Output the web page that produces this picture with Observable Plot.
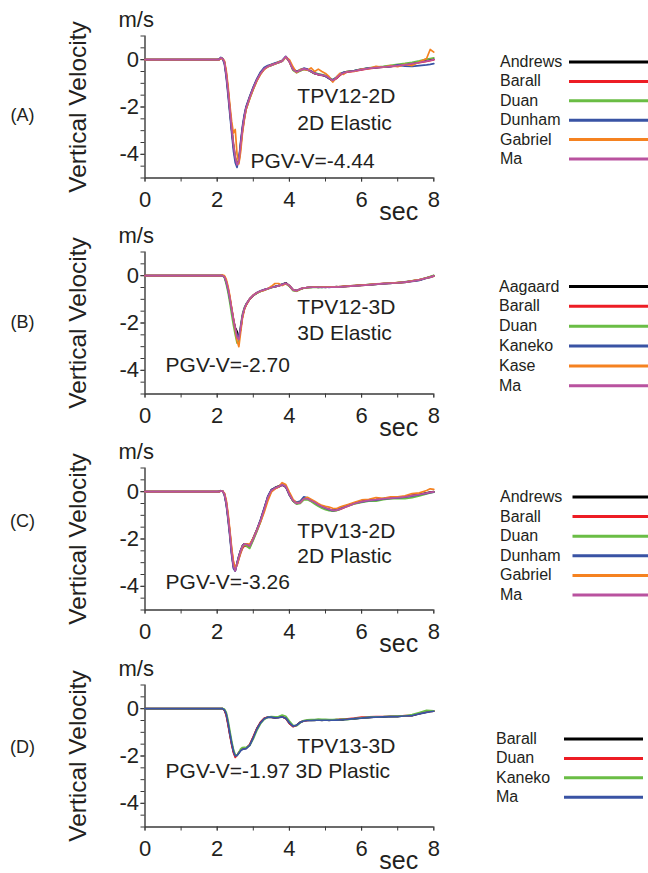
<!DOCTYPE html>
<html><head><meta charset="utf-8">
<script src="https://cdn.jsdelivr.net/npm/d3@7"></script>
<script src="https://cdn.jsdelivr.net/npm/@observablehq/plot@0.6"></script>
<style>
body{margin:0;background:#fff;}
#root{position:relative;width:648px;height:873px;overflow:hidden;font-family:"Liberation Sans",Arial,Helvetica,sans-serif;}
.panel{position:absolute;left:0;}
.legend{position:absolute;left:0;top:0;}
</style></head>
<body><div id="root"></div>
<script>
// ---------- shared axes / time ----------
const time = [0, 2.0, 2.05, 2.1, 2.15, 2.2, 2.25, 2.3, 2.35, 2.4,
  2.45, 2.5, 2.55, 2.6, 2.65, 2.7, 2.75, 2.8, 2.9, 3.0,
  3.1, 3.2, 3.3, 3.4, 3.5, 3.6, 3.7, 3.8, 3.9, 4.0,
  4.1, 4.2, 4.3, 4.4, 4.5, 4.6, 4.7, 4.8, 4.9, 5.0,
  5.1, 5.2, 5.3, 5.4, 5.5, 5.6, 5.8, 6.0, 6.2, 6.4,
  6.6, 6.8, 7.0, 7.2, 7.4, 7.6, 7.8, 7.9, 8.0];
const xTickLabels = [0, 2, 4, 6, 8];
const xMinorTicks = [0, 1, 2, 3, 4, 5, 6, 7, 8];
const yTickLabels = [0, -2, -4];
const yMinorTicks = [1, 0.5, 0, -0.5, -1, -1.5, -2, -2.5, -3, -3.5, -4, -4.5, -5];

// ---------- Panel A: TPV12-2D ----------
const modelsA = ["Andrews", "Barall", "Duan", "Dunham", "Gabriel", "Ma"];
const colorsA = ["#000000", "#ed1c24", "#6abd45", "#3953a4", "#f58220", "#b9529f"];
const aAndrews = [0, 0, 0, 0.07, 0.05, -0.12, -0.65, -1.35, -2.15, -2.95,
  -3.65, -4.2, -4.42, -4.25, -3.55, -2.9, -2.4, -2.02, -1.58, -1.18,
  -0.83, -0.56, -0.37, -0.28, -0.22, -0.16, -0.11, -0.05, 0.12, -0.07,
  -0.4, -0.5, -0.45, -0.38, -0.43, -0.51, -0.59, -0.62, -0.66, -0.7,
  -0.8, -0.9, -0.79, -0.63, -0.55, -0.51, -0.47, -0.41, -0.36, -0.33,
  -0.3, -0.27, -0.24, -0.2, -0.16, -0.1, -0.04, -0.01, 0.02];
const aBarall = [0, 0, 0, 0.06, 0.04, -0.08, -0.55, -1.25, -2.05, -2.85,
  -3.55, -4.1, -4.4, -4.35, -3.7, -3.0, -2.5, -2.08, -1.62, -1.22,
  -0.87, -0.6, -0.4, -0.3, -0.24, -0.18, -0.13, -0.07, 0.11, -0.1,
  -0.44, -0.53, -0.47, -0.4, -0.41, -0.49, -0.57, -0.64, -0.66, -0.69,
  -0.79, -0.87, -0.8, -0.66, -0.57, -0.53, -0.49, -0.43, -0.38, -0.35,
  -0.32, -0.29, -0.26, -0.23, -0.18, -0.13, -0.07, -0.04, -0.01];
const aDuan = [0, 0, 0, 0.07, 0.06, -0.1, -0.58, -1.28, -2.08, -2.88,
  -3.58, -4.12, -4.43, -4.32, -3.65, -3.0, -2.5, -2.1, -1.65, -1.25,
  -0.88, -0.6, -0.4, -0.3, -0.24, -0.18, -0.13, -0.07, 0.1, -0.06,
  -0.45, -0.55, -0.48, -0.41, -0.43, -0.5, -0.56, -0.6, -0.63, -0.66,
  -0.75, -0.85, -0.76, -0.62, -0.54, -0.5, -0.46, -0.4, -0.35, -0.31,
  -0.28, -0.24, -0.2, -0.16, -0.11, -0.05, 0.02, 0.05, 0.08];
const aDunham = [0, 0, 0.02, 0.1, 0.02, -0.18, -0.75, -1.5, -2.3, -3.1,
  -3.85, -4.35, -4.55, -4.2, -3.45, -2.8, -2.32, -1.98, -1.55, -1.15,
  -0.8, -0.52, -0.33, -0.25, -0.2, -0.14, -0.09, -0.03, 0.14, -0.05,
  -0.4, -0.5, -0.42, -0.36, -0.4, -0.48, -0.56, -0.62, -0.64, -0.7,
  -0.8, -0.86, -0.74, -0.6, -0.53, -0.5, -0.46, -0.4, -0.36, -0.34,
  -0.32, -0.3, -0.22, -0.27, -0.28, -0.25, -0.22, -0.2, -0.17];
const aGabriel = [0, 0, 0, 0.05, 0.04, -0.05, -0.45, -1.1, -1.9, -2.6,
  -3.1, -2.95, -4.0, -4.4, -3.9, -3.1, -2.55, -2.1, -1.65, -1.25,
  -0.9, -0.62, -0.42, -0.3, -0.22, -0.18, -0.1, -0.05, 0.1, 0.0,
  -0.3, -0.55, -0.42, -0.4, -0.45, -0.35, -0.5, -0.4, -0.5, -0.58,
  -0.72, -0.95, -0.75, -0.58, -0.62, -0.5, -0.5, -0.4, -0.38, -0.28,
  -0.32, -0.25, -0.3, -0.2, -0.25, -0.1, 0.05, 0.43, 0.32];
const aMa = [0, 0, 0, 0.08, 0.05, -0.1, -0.6, -1.3, -2.1, -2.9,
  -3.6, -4.15, -4.45, -4.3, -3.6, -2.95, -2.45, -2.05, -1.6, -1.2,
  -0.85, -0.58, -0.38, -0.29, -0.23, -0.17, -0.12, -0.06, 0.13, -0.08,
  -0.42, -0.52, -0.46, -0.39, -0.42, -0.5, -0.58, -0.63, -0.65, -0.68,
  -0.78, -0.88, -0.78, -0.64, -0.56, -0.52, -0.48, -0.42, -0.37, -0.34,
  -0.31, -0.28, -0.25, -0.22, -0.17, -0.12, -0.06, -0.03, 0.0];

// ---------- Panel B: TPV12-3D ----------
const modelsB = ["Aagaard", "Barall", "Duan", "Kaneko", "Kase", "Ma"];
const colorsB = ["#000000", "#ed1c24", "#6abd45", "#3953a4", "#f58220", "#b9529f"];
const bAagaard = [0, 0, 0, 0, 0, -0.06, -0.28, -0.6, -1.0, -1.45,
  -1.9, -2.2, -2.35, -2.65, -2.25, -1.72, -1.42, -1.24, -0.99, -0.84,
  -0.73, -0.66, -0.6, -0.55, -0.5, -0.46, -0.42, -0.36, -0.3, -0.43,
  -0.61, -0.64, -0.57, -0.52, -0.5, -0.5, -0.48, -0.5, -0.48, -0.5,
  -0.48, -0.49, -0.46, -0.48, -0.45, -0.44, -0.42, -0.4, -0.38, -0.37,
  -0.33, -0.33, -0.29, -0.28, -0.22, -0.19, -0.09, -0.05, 0.0];
const bBarall = [0, 0, 0, 0, 0, -0.04, -0.22, -0.52, -0.92, -1.38,
  -1.82, -2.22, -2.58, -2.72, -2.25, -1.72, -1.42, -1.23, -0.99, -0.84,
  -0.73, -0.66, -0.6, -0.55, -0.5, -0.47, -0.43, -0.38, -0.33, -0.43,
  -0.6, -0.63, -0.56, -0.52, -0.5, -0.49, -0.49, -0.49, -0.49, -0.48,
  -0.48, -0.48, -0.47, -0.47, -0.46, -0.45, -0.43, -0.41, -0.39, -0.36,
  -0.34, -0.32, -0.3, -0.27, -0.23, -0.18, -0.1, -0.06, -0.01];
const bDuan = [0, 0, 0, 0, 0, -0.08, -0.35, -0.7, -1.15, -1.65,
  -2.1, -2.5, -2.85, -2.75, -2.1, -1.62, -1.35, -1.2, -0.98, -0.84,
  -0.74, -0.67, -0.61, -0.56, -0.51, -0.47, -0.43, -0.38, -0.34, -0.45,
  -0.63, -0.66, -0.58, -0.53, -0.51, -0.5, -0.5, -0.49, -0.5, -0.49,
  -0.49, -0.48, -0.48, -0.47, -0.46, -0.45, -0.43, -0.41, -0.38, -0.36,
  -0.34, -0.31, -0.29, -0.26, -0.22, -0.17, -0.09, -0.04, 0.01];
const bKaneko = [0, 0, 0, 0, 0, -0.05, -0.26, -0.57, -0.97, -1.42,
  -1.86, -2.24, -2.52, -2.57, -2.15, -1.68, -1.39, -1.21, -0.97, -0.82,
  -0.71, -0.64, -0.59, -0.54, -0.49, -0.46, -0.42, -0.37, -0.32, -0.41,
  -0.59, -0.63, -0.56, -0.52, -0.5, -0.48, -0.49, -0.48, -0.5, -0.48,
  -0.5, -0.48, -0.49, -0.46, -0.47, -0.44, -0.44, -0.4, -0.4, -0.35,
  -0.35, -0.31, -0.31, -0.26, -0.24, -0.2, -0.11, -0.07, -0.02];
const bKase = [0, 0, 0, 0, 0.02, 0.0, -0.15, -0.45, -0.85, -1.35,
  -1.85, -2.3, -2.75, -3.0, -2.4, -1.8, -1.45, -1.25, -0.98, -0.82,
  -0.72, -0.66, -0.62, -0.55, -0.45, -0.33, -0.33, -0.42, -0.34, -0.42,
  -0.6, -0.65, -0.57, -0.52, -0.5, -0.49, -0.48, -0.49, -0.48, -0.48,
  -0.48, -0.47, -0.47, -0.46, -0.45, -0.44, -0.42, -0.4, -0.38, -0.35,
  -0.33, -0.31, -0.29, -0.27, -0.22, -0.17, -0.1, -0.06, -0.02];
const bMa = [0, 0, 0, 0, 0, -0.05, -0.25, -0.55, -0.95, -1.4,
  -1.85, -2.25, -2.6, -2.7, -2.2, -1.7, -1.4, -1.22, -0.98, -0.83,
  -0.72, -0.65, -0.6, -0.55, -0.5, -0.47, -0.43, -0.38, -0.32, -0.42,
  -0.6, -0.64, -0.56, -0.52, -0.5, -0.49, -0.49, -0.49, -0.49, -0.49,
  -0.49, -0.48, -0.48, -0.47, -0.46, -0.45, -0.43, -0.41, -0.39, -0.36,
  -0.34, -0.32, -0.3, -0.27, -0.23, -0.18, -0.1, -0.06, -0.01];

// ---------- Panel C: TPV13-2D ----------
const modelsC = ["Andrews", "Barall", "Duan", "Dunham", "Gabriel", "Ma"];
const colorsC = ["#000000", "#ed1c24", "#6abd45", "#3953a4", "#f58220", "#b9529f"];
const cAndrews = [0, 0, 0, 0.04, 0.02, -0.12, -0.5, -1.1, -1.8, -2.6,
  -3.18, -3.33, -3.02, -2.72, -2.48, -2.28, -2.2, -2.22, -2.28, -1.95,
  -1.6, -1.2, -0.72, -0.22, 0.08, 0.17, 0.24, 0.3, 0.2, -0.14,
  -0.4, -0.51, -0.45, -0.29, -0.31, -0.39, -0.46, -0.56, -0.64, -0.7,
  -0.75, -0.8, -0.77, -0.72, -0.66, -0.6, -0.48, -0.41, -0.36, -0.33,
  -0.29, -0.26, -0.24, -0.21, -0.16, -0.11, -0.05, -0.02, 0.0];
const cBarall = [0, 0, 0, 0.03, 0.02, -0.09, -0.42, -1.0, -1.7, -2.45,
  -3.0, -3.2, -3.1, -2.85, -2.6, -2.4, -2.3, -2.3, -2.35, -2.02,
  -1.66, -1.26, -0.8, -0.3, 0.02, 0.12, 0.2, 0.27, 0.2, -0.12,
  -0.37, -0.49, -0.47, -0.32, -0.31, -0.37, -0.44, -0.53, -0.62, -0.7,
  -0.76, -0.8, -0.79, -0.75, -0.69, -0.62, -0.51, -0.43, -0.37, -0.34,
  -0.3, -0.28, -0.25, -0.22, -0.17, -0.12, -0.07, -0.03, -0.01];
const cDuan = [0, 0, 0, 0.03, 0.02, -0.1, -0.44, -1.03, -1.72, -2.5,
  -3.1, -3.3, -3.08, -2.8, -2.55, -2.35, -2.25, -2.28, -2.4, -2.05,
  -1.68, -1.28, -0.8, -0.3, 0.03, 0.14, 0.22, 0.32, 0.24, -0.1,
  -0.4, -0.53, -0.5, -0.35, -0.34, -0.42, -0.52, -0.62, -0.7, -0.76,
  -0.8, -0.82, -0.8, -0.74, -0.67, -0.6, -0.52, -0.45, -0.4, -0.4,
  -0.34, -0.3, -0.3, -0.3, -0.25, -0.18, -0.1, -0.05, -0.02];
const cDunham = [0, 0, 0.01, 0.04, 0.02, -0.14, -0.55, -1.18, -1.9, -2.68,
  -3.25, -3.36, -3.0, -2.72, -2.48, -2.3, -2.2, -2.2, -2.28, -1.96,
  -1.6, -1.18, -0.7, -0.2, 0.08, 0.16, 0.2, 0.28, 0.2, -0.14,
  -0.36, -0.45, -0.4, -0.22, -0.26, -0.36, -0.44, -0.55, -0.63, -0.7,
  -0.76, -0.8, -0.78, -0.72, -0.65, -0.58, -0.49, -0.43, -0.38, -0.36,
  -0.31, -0.28, -0.26, -0.23, -0.19, -0.13, -0.07, -0.04, -0.02];
const cGabriel = [0, 0, 0, 0.02, 0.02, -0.06, -0.35, -0.9, -1.6, -2.35,
  -2.95, -3.2, -3.1, -2.8, -2.55, -2.32, -2.22, -2.2, -2.22, -1.95,
  -1.62, -1.28, -0.88, -0.4, -0.02, 0.12, 0.2, 0.38, 0.3, -0.02,
  -0.32, -0.48, -0.45, -0.3, -0.24, -0.32, -0.4, -0.5, -0.58, -0.62,
  -0.65, -0.7, -0.72, -0.65, -0.6, -0.55, -0.45, -0.35, -0.32, -0.25,
  -0.28, -0.22, -0.22, -0.18, -0.08, -0.05, 0.05, 0.12, 0.1];
const cMa = [0, 0, 0, 0.03, 0.02, -0.1, -0.45, -1.05, -1.75, -2.55,
  -3.15, -3.35, -3.05, -2.75, -2.5, -2.3, -2.22, -2.22, -2.3, -1.98,
  -1.62, -1.22, -0.75, -0.25, 0.05, 0.15, 0.22, 0.3, 0.22, -0.12,
  -0.38, -0.5, -0.46, -0.3, -0.3, -0.38, -0.45, -0.55, -0.63, -0.69,
  -0.74, -0.79, -0.78, -0.74, -0.68, -0.62, -0.5, -0.42, -0.37, -0.34,
  -0.3, -0.27, -0.25, -0.22, -0.17, -0.12, -0.06, -0.03, -0.01];

// ---------- Panel D: TPV13-3D ----------
const modelsD = ["Barall", "Duan", "Kaneko", "Ma"];
const colorsD = ["#000000", "#ed1c24", "#6abd45", "#3953a4"];
const dBarall = [0, 0, 0, 0, 0, -0.06, -0.25, -0.63, -1.08, -1.48,
  -1.82, -2.02, -1.96, -1.86, -1.76, -1.71, -1.69, -1.68, -1.53, -1.2,
  -0.84, -0.58, -0.42, -0.36, -0.37, -0.39, -0.37, -0.34, -0.41, -0.62,
  -0.75, -0.7, -0.57, -0.51, -0.5, -0.49, -0.5, -0.48, -0.5, -0.48,
  -0.5, -0.48, -0.49, -0.46, -0.47, -0.44, -0.43, -0.39, -0.38, -0.35,
  -0.36, -0.33, -0.34, -0.3, -0.3, -0.21, -0.15, -0.12, -0.1];
const dDuan = [0, 0, 0, 0, 0, -0.07, -0.28, -0.68, -1.12, -1.52,
  -1.86, -2.06, -1.97, -1.85, -1.76, -1.7, -1.68, -1.67, -1.52, -1.18,
  -0.83, -0.57, -0.41, -0.35, -0.36, -0.38, -0.37, -0.34, -0.42, -0.63,
  -0.76, -0.71, -0.58, -0.52, -0.5, -0.48, -0.48, -0.49, -0.47, -0.48,
  -0.47, -0.48, -0.46, -0.45, -0.44, -0.43, -0.4, -0.36, -0.35, -0.33,
  -0.33, -0.32, -0.32, -0.29, -0.28, -0.21, -0.14, -0.12, -0.1];
const dKaneko = [0, 0, 0, 0, 0.01, -0.02, -0.15, -0.48, -0.92, -1.35,
  -1.72, -1.95, -1.98, -1.85, -1.7, -1.64, -1.63, -1.64, -1.56, -1.28,
  -0.92, -0.64, -0.46, -0.36, -0.33, -0.35, -0.33, -0.27, -0.32, -0.52,
  -0.7, -0.72, -0.6, -0.5, -0.47, -0.46, -0.46, -0.44, -0.45, -0.45,
  -0.46, -0.46, -0.45, -0.46, -0.44, -0.46, -0.42, -0.39, -0.36, -0.35,
  -0.34, -0.32, -0.31, -0.3, -0.25, -0.16, -0.07, -0.08, -0.09];
const dMa = [0, 0, 0, 0, 0, -0.05, -0.22, -0.6, -1.05, -1.45,
  -1.8, -2.0, -1.98, -1.88, -1.78, -1.72, -1.7, -1.69, -1.55, -1.22,
  -0.86, -0.6, -0.43, -0.36, -0.36, -0.39, -0.38, -0.35, -0.4, -0.6,
  -0.74, -0.7, -0.58, -0.52, -0.5, -0.5, -0.49, -0.49, -0.49, -0.49,
  -0.49, -0.49, -0.48, -0.47, -0.46, -0.45, -0.42, -0.4, -0.37, -0.36,
  -0.35, -0.34, -0.33, -0.31, -0.29, -0.22, -0.16, -0.13, -0.11];

// ---------- text ----------
const panelLetters = ["(A)", "(B)", "(C)", "(D)"];
const caseNames = ["TPV12-2D", "TPV12-3D", "TPV13-2D", "TPV13-3D"];
const caseTypes = ["2D Elastic", "3D Elastic", "2D Plastic", "3D Plastic"];
const pgvLabels = ["PGV-V=-4.44", "PGV-V=-2.70", "PGV-V=-3.26", "PGV-V=-1.97"];

// ---------- layout (not data) ----------
const FONT = '"Liberation Sans", Arial, Helvetica, sans-serif';
const INK = "#231f20";
const AXIS = "#3a3a3a";
const panels = [
  {top: 0, models: modelsA, colors: colorsA, series: [aAndrews, aBarall, aDuan, aDunham, aGabriel, aMa],
   letterV: -2.36, name: [4.22, -1.85], type: [4.22, -2.98], pgv: [2.92, -4.59],
   legend: {y0: 62, step: 19.4, tx: 500, x1: 569, x2: 648}},
  {top: 216, models: modelsB, colors: colorsB, series: [bAagaard, bBarall, bDuan, bKaneko, bKase, bMa],
   letterV: -1.95, name: [4.22, -1.64], type: [4.22, -2.72], pgv: [0.57, -4.06],
   legend: {y0: 286.5, step: 19.85, tx: 499, x1: 569, x2: 648}},
  {top: 432.3, models: modelsC, colors: colorsC, series: [cAndrews, cBarall, cDuan, cDunham, cGabriel, cMa],
   letterV: -1.26, name: [4.22, -1.96], type: [4.22, -3.01], pgv: [0.57, -4.11],
   legend: {y0: 497, step: 19.6, tx: 500, x1: 572.5, x2: 648}},
  {top: 649, models: modelsD, colors: colorsD, series: [dBarall, dDuan, dKaneko, dMa],
   letterV: -1.61, name: [4.22, -1.89], type: [4.17, -2.95], pgv: [0.57, -2.95],
   legend: {y0: 739, step: 19.4, tx: 496, x1: 564, x2: 643}}
];

const root = document.getElementById("root");

panels.forEach((p, k) => {
  const rows = [];
  p.series.forEach((vals, i) => vals.forEach((v, j) => rows.push({t: time[j], v, model: p.models[i]})));
  const txt = (s, pos, extra = {}) => Plot.text([s], {x: pos[0], y: pos[1], text: d => d, textAnchor: "start",
    lineAnchor: "bottom", fontSize: 21, fill: INK, ...extra});
  const chart = Plot.plot({
    width: 648, height: 216,
    marginLeft: 144.5, marginRight: 214.7, marginTop: 35.5, marginBottom: 38.5,
    style: {fontFamily: FONT, color: INK, background: "transparent", overflow: "visible"},
    x: {domain: [0, 8], axis: null},
    y: {domain: [-5, 1], axis: null},
    color: {domain: p.models, range: p.colors},
    marks: [
      Plot.axisY({ticks: yMinorTicks, tickSize: 4, tickFormat: () => "", label: null, stroke: AXIS}),
      Plot.axisY({ticks: yTickLabels, tickSize: 4, tickPadding: 2, fontSize: 22, tickFormat: d => String(d), label: null, stroke: AXIS, fill: INK}),
      Plot.axisX({ticks: xMinorTicks, tickSize: 4, tickFormat: () => "", label: null, stroke: AXIS}),
      Plot.axisX({ticks: xTickLabels, tickSize: 4, tickPadding: 9, fontSize: 22, tickFormat: d => String(d), label: null, stroke: AXIS, fill: INK}),
      Plot.ruleX([0], {stroke: AXIS, strokeWidth: 1.4}),
      Plot.ruleY([-5], {stroke: AXIS, strokeWidth: 1.4}),
      Plot.line(rows, {x: "t", y: "v", z: "model", stroke: "model", strokeWidth: 1.7, strokeLinejoin: "round"}),
      Plot.text(["Vertical Velocity"], {frameAnchor: "left", rotate: -90, textAnchor: "middle", lineAnchor: "top", dx: -76, fontSize: 24.5, fill: INK}),
      Plot.text(["m/s"], {frameAnchor: "top-left", textAnchor: "start", lineAnchor: "bottom", dx: -26.5, dy: -9, fontSize: 22, fill: INK}),
      Plot.text(["sec"], {frameAnchor: "bottom-right", textAnchor: "middle", lineAnchor: "bottom", dx: -35, dy: 42, fontSize: 25, fill: INK}),
      txt(panelLetters[k], [-3.39, p.letterV], {textAnchor: "middle", lineAnchor: "middle", fontSize: 18}),
      txt(caseNames[k], p.name),
      txt(caseTypes[k], p.type),
      txt(pgvLabels[k], p.pgv)
    ]
  });
  const wrap = document.createElement("div");
  wrap.className = "panel";
  wrap.style.top = p.top + "px";
  wrap.appendChild(chart);
  root.appendChild(wrap);
});

// legends
const lg = d3.create("svg").attr("class", "legend").attr("width", 648).attr("height", 873)
  .style("font-family", FONT);
panels.forEach(p => {
  const L = p.legend;
  p.models.forEach((m, i) => {
    const y = L.y0 + i * L.step;
    lg.append("text").attr("x", L.tx).attr("y", y + 5).attr("font-size", 16).attr("fill", INK).text(m);
    lg.append("line").attr("x1", L.x1).attr("x2", L.x2).attr("y1", y).attr("y2", y)
      .attr("stroke", p.colors[i]).attr("stroke-width", 3);
  });
});
root.appendChild(lg.node());
</script>
</body></html>
